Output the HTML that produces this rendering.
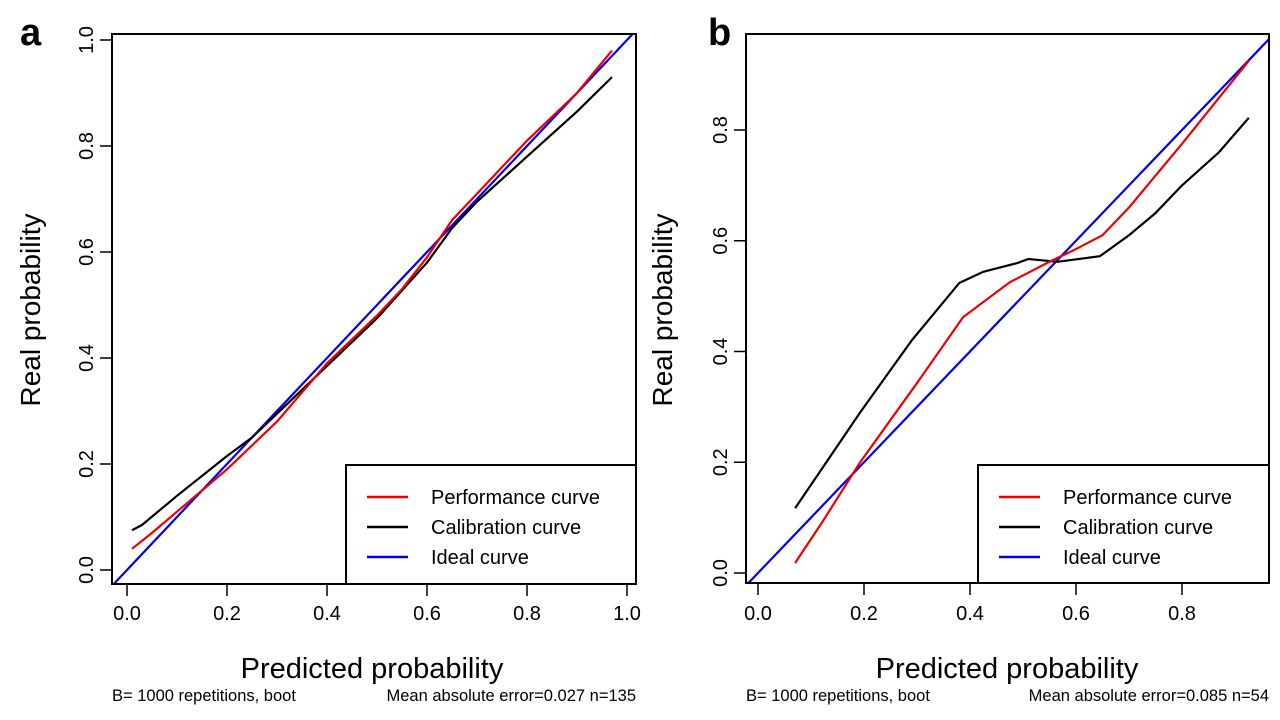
<!DOCTYPE html>
<html><head><meta charset="utf-8"><style>
html,body{margin:0;padding:0;background:#fff;width:1280px;height:720px;overflow:hidden}
svg{display:block;font-family:"Liberation Sans",Arial,sans-serif}
</style></head><body>
<svg id="chart" width="1280" height="720" viewBox="0 0 1280 720"></svg>
<script>
// Panel a data
const aTicks = [0, 0.2, 0.4, 0.6, 0.8, 1.0];
const aTickLabels = ["0.0","0.2","0.4","0.6","0.8","1.0"];
const aPerfX = [0.01,0.05,0.1,0.2,0.3,0.4,0.5,0.55,0.6,0.65,0.7,0.8,0.9,0.97];
const aPerfY = [0.04,0.07,0.11,0.19,0.28,0.39,0.48,0.53,0.59,0.66,0.71,0.81,0.9,0.98];
const aCalX = [0.01,0.03,0.1,0.2,0.25,0.3,0.4,0.5,0.6,0.65,0.7,0.8,0.9,0.97];
const aCalY = [0.075,0.085,0.14,0.215,0.25,0.295,0.385,0.475,0.58,0.645,0.695,0.78,0.865,0.93];
// Panel b data
const bTicks = [0, 0.2, 0.4, 0.6, 0.8];
const bTickLabels = ["0.0","0.2","0.4","0.6","0.8"];
const bPerfX = [0.07,0.12,0.192,0.3,0.387,0.475,0.55,0.6,0.65,0.7,0.8,0.926];
const bPerfY = [0.018,0.09,0.199,0.343,0.462,0.525,0.562,0.585,0.61,0.66,0.775,0.925];
const bCalX = [0.07,0.192,0.29,0.38,0.425,0.49,0.51,0.565,0.645,0.7,0.75,0.8,0.87,0.926];
const bCalY = [0.117,0.289,0.42,0.524,0.544,0.56,0.567,0.562,0.572,0.61,0.65,0.70,0.76,0.822];

const NS = "http://www.w3.org/2000/svg";
const svg = document.getElementById('chart');
function mk(tag, attrs, parent, text){
  const e = document.createElementNS(NS, tag);
  for (const k in attrs) e.setAttribute(k, attrs[k]);
  if (text !== undefined) e.textContent = text;
  (parent||svg).appendChild(e);
  return e;
}
function panel(cfg){
  const g = mk('g', {});
  
  
  const sx = v => cfg.x0 + v * cfg.kx;
  const sy = v => cfg.y0 - v * cfg.ky;
  const clipId = 'clip' + cfg.id;
  const cp = mk('clipPath', {id: clipId}, g);
  mk('rect', {x: cfg.L, y: cfg.T, width: cfg.R - cfg.L, height: cfg.B - cfg.T}, cp);
  const lo = Math.min((cfg.L - cfg.x0)/cfg.kx, (cfg.y0 - cfg.B)/cfg.ky) - 0.05;
  const hi = 1.2;
  const ideal = mk('line', {x1: sx(lo), y1: sy(lo), x2: sx(hi), y2: sy(hi), stroke: '#0000ee', 'stroke-width': 2.2, 'clip-path': 'url(#' + clipId + ')'}, g);
  
  
  const cal = mk('polyline', {points: cfg.calX.map((x,i)=>sx(x)+','+sy(cfg.calY[i])).join(' '), fill: 'none', stroke: '#000', 'stroke-width': 2.2}, g);
  
  
  const perf = mk('polyline', {points: cfg.perfX.map((x,i)=>sx(x)+','+sy(cfg.perfY[i])).join(' '), fill: 'none', stroke: '#ee0000', 'stroke-width': 2.2}, g);
  
  
  const lg = mk('g', {}, g);
  
  
  mk('rect', {x: cfg.legX, y: 465, width: cfg.R - cfg.legX, height: cfg.B - 465, fill: '#fff', stroke: '#000', 'stroke-width': 2}, lg);
  const items = [['Performance curve','#ee0000'],['Calibration curve','#000'],['Ideal curve','#0000ee']];
  items.forEach((it, i) => {
    const y = 497 + i * 30;
    const ln = mk('line', {x1: cfg.legX + 21, x2: cfg.legX + 62, y1: y, y2: y, stroke: it[1], 'stroke-width': 2.5}, lg);
    
    
    const t = mk('text', {x: cfg.legX + 85, y: y + 7, 'font-size': 20}, lg, it[0]);
    
    
  });
  const box = mk('rect', {x: cfg.L, y: cfg.T, width: cfg.R - cfg.L, height: cfg.B - cfg.T, fill: 'none', stroke: '#000', 'stroke-width': 2}, g);
  
  
  cfg.ticks.forEach((v, i) => {
    mk('line', {x1: sx(v), x2: sx(v), y1: cfg.B, y2: cfg.B + 12, stroke: '#000', 'stroke-width': 1.5}, g);
    const t = mk('text', {x: sx(v), y: 620, 'font-size': 20, 'text-anchor': 'middle'}, g, cfg.labels[i]);
    
    
  });
  cfg.ticks.forEach((v, i) => {
    mk('line', {x1: cfg.L - 12, x2: cfg.L, y1: sy(v), y2: sy(v), stroke: '#000', 'stroke-width': 1.5}, g);
    const tx = cfg.L - 19;
    const t = mk('text', {x: tx, y: sy(v), 'font-size': 20, 'text-anchor': 'middle', transform: 'rotate(-90 ' + tx + ' ' + sy(v) + ')'}, g, cfg.labels[i]);
    
    
  });
  const yt = mk('text', {x: cfg.yTitleX, y: 310, 'font-size': 28, 'text-anchor': 'middle', transform: 'rotate(-90 ' + cfg.yTitleX + ' 310)'}, g, 'Real probability');
  
  
  const xt = mk('text', {x: cfg.xTitleX, y: 678, 'font-size': 29, 'text-anchor': 'middle'}, g, 'Predicted probability');
  
  
  const s1 = mk('text', {x: cfg.L, y: 701, 'font-size': 16.5}, g, 'B= 1000 repetitions, boot');
  
  
  const s2 = mk('text', {x: cfg.R, y: 701, 'font-size': 16.5, 'text-anchor': 'end'}, g, cfg.mae);
  
  
  const pl = mk('text', {x: cfg.letterX, y: 45, 'font-size': 38, 'font-weight': 'bold'}, g, cfg.id);
  
  
}
panel({id:'a', L:112, R:636, T:34, B:584, x0:127, kx:500, y0:570, ky:530,
  ticks:aTicks, labels:aTickLabels, perfX:aPerfX, perfY:aPerfY, calX:aCalX, calY:aCalY,
  legX:346, yTitleX:40, xTitleX:372, mae:'Mean absolute error=0.027 n=135', letterX:20});
panel({id:'b', L:746, R:1269, T:34, B:583, x0:758, kx:530, y0:573, ky:553.75,
  ticks:bTicks, labels:bTickLabels, perfX:bPerfX, perfY:bPerfY, calX:bCalX, calY:bCalY,
  legX:978, yTitleX:672, xTitleX:1007, mae:'Mean absolute error=0.085 n=54', letterX:708});
</script>
</body></html>
